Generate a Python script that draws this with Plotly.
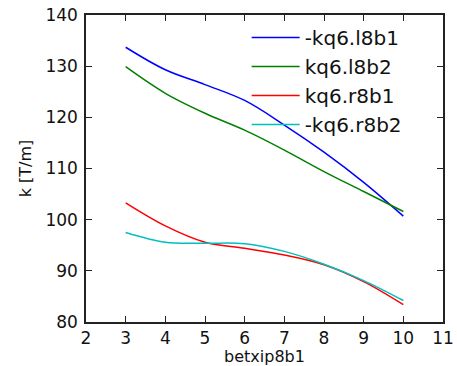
import plotly.graph_objects as go

betx = [3, 4, 5, 6, 7, 8, 9, 10]
kq6_l8b1_neg = [133.7, 129.3, 126.4, 123.3, 118.5, 113.2, 107.3, 100.7]
kq6_l8b2 = [129.9, 124.7, 120.8, 117.5, 113.6, 109.4, 105.5, 101.6]
kq6_r8b1 = [103.3, 98.8, 95.6, 94.4, 93.1, 91.2, 87.9, 83.4]
kq6_r8b2_neg = [97.5, 95.6, 95.4, 95.3, 93.8, 91.3, 88.1, 84.2]

names = ["-kq6.l8b1", "kq6.l8b2", "kq6.r8b1", "-kq6.r8b2"]
colors = ["#0000ff", "#008000", "#ff0000", "#00bfbf"]
series = [kq6_l8b1_neg, kq6_l8b2, kq6_r8b1, kq6_r8b2_neg]

fig = go.Figure()
for n, c, s in zip(names, colors, series):
    fig.add_trace(go.Scatter(x=betx, y=s, name=n, mode="lines",
                             line=dict(color=c, width=1.5, shape="spline", smoothing=1.0)))

axis_common = dict(showgrid=False, zeroline=False, showline=True, linecolor="#222222",
                   linewidth=1.5, mirror="ticks", ticks="inside", ticklen=6, automargin=False,
                   tickcolor="#222222", tickfont=dict(family="DejaVu Sans", size=17, color="#111111"))

fig.update_layout(
    width=457, height=366,
    margin=dict(l=86, r=14, t=15, b=44),
    paper_bgcolor="white", plot_bgcolor="white",
    font=dict(family="DejaVu Sans", color="#111111"),
    xaxis=dict(range=[2, 11], dtick=1, title=dict(text="betxip8b1", font=dict(size=16), standoff=9), **axis_common),
    yaxis=dict(range=[80, 140], dtick=10, ticklabelstandoff=3,
               title=dict(text="k [T/m]", font=dict(size=16), standoff=10), **axis_common),
    legend=dict(x=0.45, y=0.99, xanchor="left", yanchor="top", bgcolor="rgba(0,0,0,0)",
                font=dict(family="DejaVu Sans", size=20, color="#111111"), itemwidth=48),
)

fig.write_html("out.html")
